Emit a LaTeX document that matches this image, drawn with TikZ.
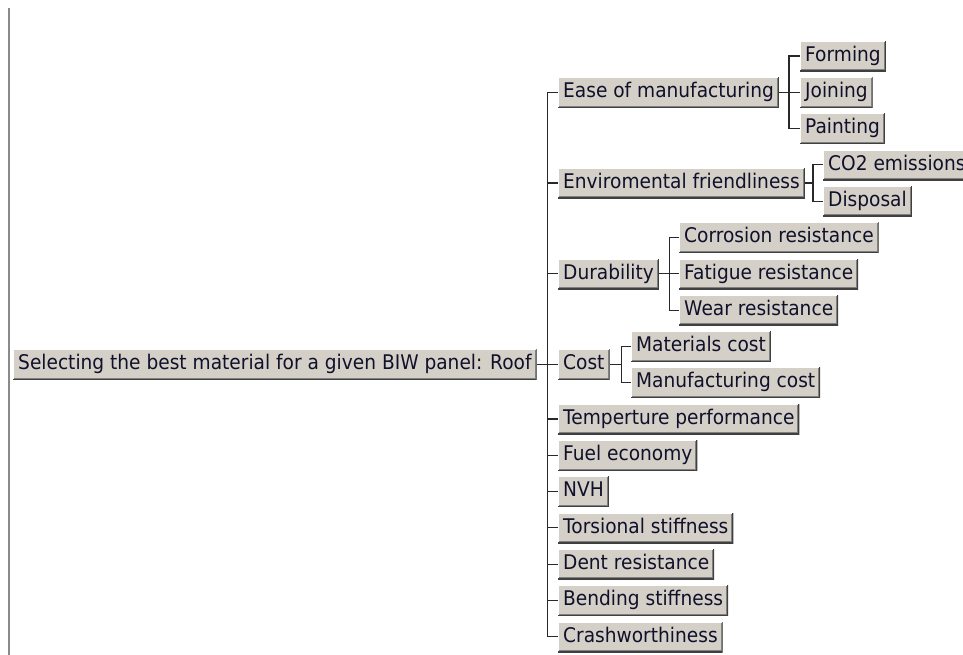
\documentclass[tikz,border=0pt]{standalone}
\usepackage{fontspec}
\newfontfamily\btnfont[FakeStretch=0.92]{DejaVu Sans}
\definecolor{btnface}{HTML}{D4D0C8}
\definecolor{btnshadow}{HTML}{808080}
\definecolor{btndark}{HTML}{404040}
\definecolor{btntext}{HTML}{10102A}
\definecolor{wire}{HTML}{282828}
\definecolor{rule}{HTML}{8A8A8A}
\begin{document}
\begin{tikzpicture}[x=1pt,y=-1pt,
  btn/.style={anchor=west, fill=btnface, text=btntext,
    font=\btnfont\fontsize{20.2}{24}\selectfont,
    inner xsep=5pt, inner ysep=0pt, text height=15.5pt, text depth=5pt,
    minimum height=30.5pt,
    path picture={
      \draw[white,line width=2pt]
        (path picture bounding box.south west) -- (path picture bounding box.north west)
        -- (path picture bounding box.north east);
      \draw[btndark,line width=2pt]
        (path picture bounding box.north east) -- (path picture bounding box.south east)
        -- (path picture bounding box.south west);
      \draw[btnshadow,line width=1pt]
        ([shift={(-1.5pt,-1pt)}]path picture bounding box.north east)
        -- ([shift={(-1.5pt,1.5pt)}]path picture bounding box.south east)
        -- ([shift={(1pt,1.5pt)}]path picture bounding box.south west);
    }},
  link/.style={draw=wire, line width=1.1pt}
]
\useasboundingbox (0,0) rectangle (963,655);

% left margin rule
\draw[rule, line width=1.3pt] (9,8) -- (9,655);

% root
\node[btn] (root) at (13,364.55) {Selecting the best material for a given BIW panel: Roof};

% first level
\node[btn] (ease)  at (558,92.3)  {Ease of manufacturing};
\node[btn] (env)   at (558,183.05) {Enviromental friendliness};
\node[btn] (dur)   at (558,273.8) {Durability};
\node[btn] (cost)  at (558,364.55) {Cost};
\node[btn] (temp)  at (558,419.0) {Temperture performance};
\node[btn] (fuel)  at (558,455.3) {Fuel economy};
\node[btn] (nvh)   at (558,491.6) {NVH};
\node[btn] (tors)  at (558,527.9) {Torsional stiffness};
\node[btn] (dent)  at (558,564.2) {Dent resistance};
\node[btn] (bend)  at (558,600.5) {Bending stiffness};
\node[btn] (crash) at (558,636.8) {Crashworthiness};

% second level
\node[btn] (forming)  at (800,56.0)  {Forming};
\node[btn] (joining)  at (800,92.3)  {Joining};
\node[btn] (painting) at (800,128.6) {Painting};
\node[btn] (co2)      at (823,164.9) {CO2 emissions};
\node[btn] (disposal) at (823,201.2) {Disposal};
\node[btn] (corr)     at (679,237.5) {Corrosion resistance};
\node[btn] (fatigue)  at (679,273.8) {Fatigue resistance};
\node[btn] (wear)     at (679,310.1) {Wear resistance};
\node[btn] (matcost)  at (631,346.4) {Materials cost};
\node[btn] (mfgcost)  at (631,382.7) {Manufacturing cost};

% trunk positions
\coordinate (t0) at ([xshift=-10.5pt]ease.west);
\coordinate (t1) at ([xshift=-11pt]forming.west);
\coordinate (t2) at ([xshift=-10pt]co2.west);
\coordinate (t3) at ([xshift=-9.5pt]corr.west);
\coordinate (t4) at ([xshift=-9.5pt]matcost.west);

% root to first level
\draw[link] (root.east) -- (root.east -| t0);
\draw[link] (ease.west) -- (ease.west -| t0) -- (crash.west -| t0) -- (crash.west);
\foreach \n in {env,dur,cost,temp,fuel,nvh,tors,dent,bend}
  \draw[link] (\n.west) -- (\n.west -| t0);

% ease of manufacturing
\draw[link] (ease.east) -- (ease.east -| t1);
\draw[link] (forming.west) -- (forming.west -| t1) -- (painting.west -| t1) -- (painting.west);
\draw[link] (joining.west) -- (joining.west -| t1);

% environmental friendliness
\draw[link] (env.east) -- (env.east -| t2);
\draw[link] (co2.west) -- (co2.west -| t2) -- (disposal.west -| t2) -- (disposal.west);

% durability
\draw[link] (dur.east) -- (dur.east -| t3);
\draw[link] (corr.west) -- (corr.west -| t3) -- (wear.west -| t3) -- (wear.west);
\draw[link] (fatigue.west) -- (fatigue.west -| t3);

% cost
\draw[link] (cost.east) -- (cost.east -| t4);
\draw[link] (matcost.west) -- (matcost.west -| t4) -- (mfgcost.west -| t4) -- (mfgcost.west);
\end{tikzpicture}
\end{document}
